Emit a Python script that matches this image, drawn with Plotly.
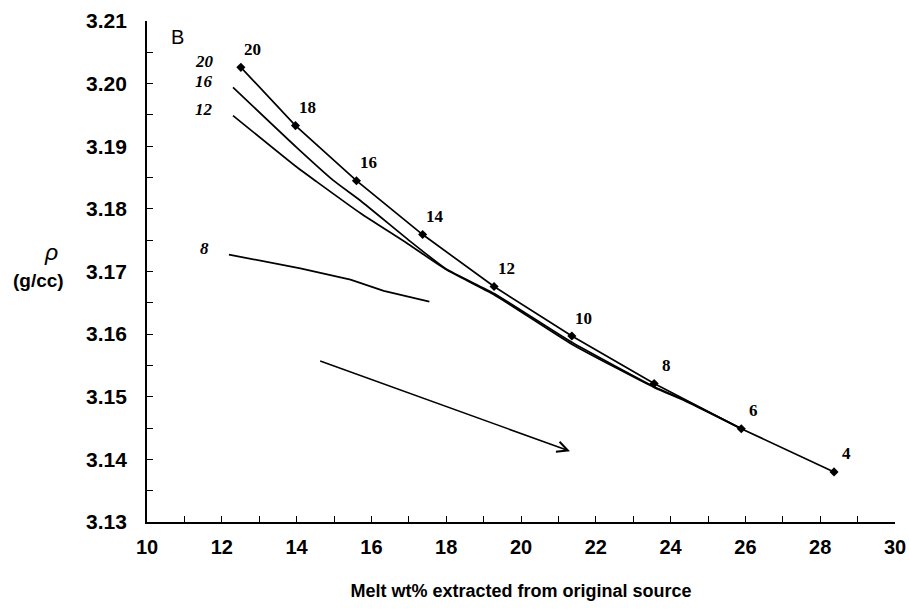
import plotly.graph_objects as go

# ---- data ----
# main curve (label 20) with diamond markers and point labels
main_x = [12.51, 13.97, 15.60, 17.37, 19.28, 21.36, 23.56, 25.89, 28.37]
main_y = [3.2026, 3.1933, 3.1845, 3.1759, 3.1676, 3.1597, 3.1521, 3.1449, 3.1380]
main_point_labels = ["20", "18", "16", "14", "12", "10", "8", "6", "4"]

curve16_x = [12.30, 14.02, 14.99, 15.71, 16.98, 18.00, 19.28, 21.36, 23.56, 24.40, 25.89]
curve16_y = [3.1994, 3.1897, 3.1845, 3.1813, 3.1751, 3.1704, 3.1665, 3.1587, 3.1516, 3.1494, 3.1449]

curve12_x = [12.30, 14.02, 14.50, 15.71, 16.98, 18.00, 19.28, 21.36, 23.56, 24.40, 25.89]
curve12_y = [3.1949, 3.1866, 3.1845, 3.1793, 3.1744, 3.1703, 3.1663, 3.1584, 3.1515, 3.1493, 3.1449]

curve8_x = [12.19, 14.10, 15.44, 16.33, 17.55]
curve8_y = [3.1727, 3.1705, 3.1687, 3.1669, 3.1652]

curve_names = ["20", "16", "12", "8"]
curve_label_x = 11.53

arrow_start = (14.59, 3.1558)
arrow_end = (21.31, 3.1413)

x_ticks = [10, 12, 14, 16, 18, 20, 22, 24, 26, 28, 30]
y_ticks = [3.13, 3.14, 3.15, 3.16, 3.17, 3.18, 3.19, 3.20, 3.21]

# ---- figure ----
fig = go.Figure()

fig.add_trace(go.Scatter(x=main_x, y=main_y, mode="lines+markers",
                         line=dict(color="black", width=1.7),
                         marker=dict(symbol="diamond", size=7, color="black"),
                         hoverinfo="skip"))
for cx, cy, shp in [(curve16_x, curve16_y, "spline"), (curve12_x, curve12_y, "spline"),
                    (curve8_x, curve8_y, "linear")]:
    fig.add_trace(go.Scatter(x=cx, y=cy, mode="lines",
                             line=dict(color="black", width=1.7, shape=shp, smoothing=0.5),
                             hoverinfo="skip"))

annotations = []
serif = "Liberation Serif"
sans = "Liberation Sans"

# point labels
for x, y, t in zip(main_x, main_y, main_point_labels):
    annotations.append(dict(x=x, y=y, text=t, showarrow=False, xshift=12, yshift=18,
                            font=dict(family=serif, size=17, color="black", weight="bold")))

# curve labels (italic)
for name, cy in zip(curve_names, [main_y[0], curve16_y[0], curve12_y[0], curve8_y[0]]):
    annotations.append(dict(x=curve_label_x, y=cy, text="<i>" + name + "</i>", showarrow=False,
                            yshift=6,
                            font=dict(family=serif, size=17, color="black", weight="bold")))

# arrow
annotations.append(dict(x=arrow_end[0], y=arrow_end[1], ax=arrow_start[0], ay=arrow_start[1],
                        xref="x", yref="y", axref="x", ayref="y", text="", showarrow=True,
                        arrowhead=5, arrowsize=1.4, arrowwidth=1.5, arrowcolor="black"))

# panel letter
annotations.append(dict(xref="paper", yref="paper", x=0.041, y=0.968, text="B", showarrow=False,
                        xanchor="center", yanchor="middle",
                        font=dict(family=sans, size=20, color="black")))

# y axis title
annotations.append(dict(xref="paper", yref="paper", x=-0.128, y=0.538, text="<i>ρ</i>",
                        showarrow=False, xanchor="center", yanchor="middle",
                        font=dict(family=sans, size=23, color="black")))
annotations.append(dict(xref="paper", yref="paper", x=-0.145, y=0.482, text="(g/cc)",
                        showarrow=False, xanchor="center", yanchor="middle",
                        font=dict(family=sans, size=19, color="black", weight="bold")))

fig.update_layout(
    width=909, height=615,
    margin=dict(l=147, r=14, t=21, b=93),
    paper_bgcolor="white", plot_bgcolor="white",
    showlegend=False,
    annotations=annotations,
    xaxis=dict(range=[10, 30], tickvals=x_ticks, ticks="inside", ticklen=6, tickwidth=1.2,
               tickcolor="black", showline=True, linecolor="black", linewidth=1.7,
               showgrid=False, zeroline=False, automargin=False,
               minor=dict(ticks="inside", dtick=1, ticklen=6, tickcolor="black", tickwidth=1.2),
               tickfont=dict(family=sans, size=20, color="black", weight="bold"),
               ticklabelstandoff=6,
               title=dict(text="Melt wt% extracted from original source",
                          font=dict(family=sans, size=18, color="black", weight="bold"),
                          standoff=28)),
    yaxis=dict(range=[3.13, 3.21], tickvals=y_ticks, tickformat=".2f", ticks="inside",
               ticklen=6, tickwidth=1.2, tickcolor="black", showline=True, linecolor="black",
               linewidth=1.7, showgrid=False, zeroline=False, automargin=False,
               minor=dict(ticks="inside", dtick=0.005, ticklen=6, tickcolor="black", tickwidth=1.2),
               tickfont=dict(family=sans, size=21, color="black", weight="bold"),
               ticklabelstandoff=14),
)

fig.write_html("out.html")
